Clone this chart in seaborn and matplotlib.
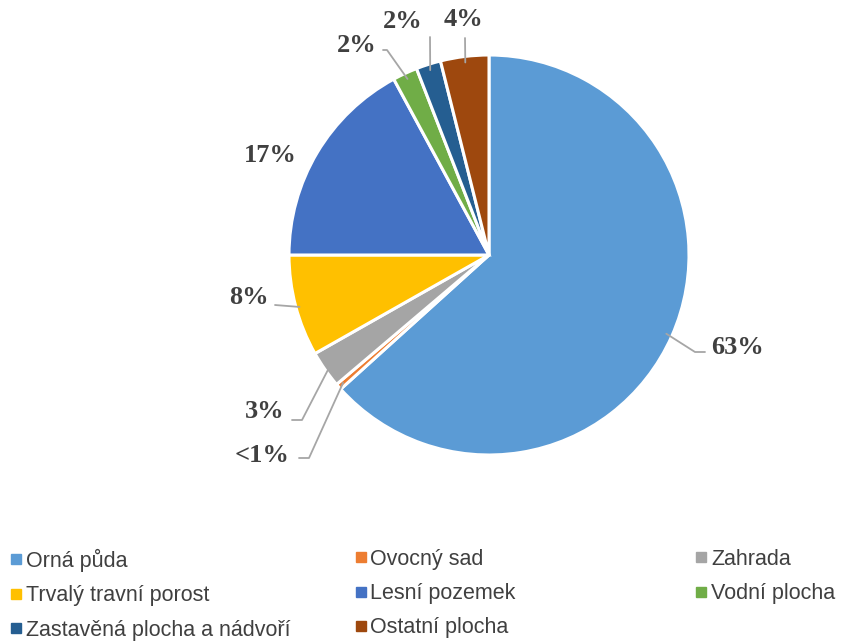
import numpy as np
import matplotlib
matplotlib.use("Agg")
from matplotlib import pyplot as plt
from matplotlib.lines import Line2D
import seaborn as sns

categories = ["Orná půda", "Ovocný sad", "Zahrada", "Trvalý travní porost",
              "Lesní pozemek", "Vodní plocha", "Zastavěná plocha a nádvoří", "Ostatní plocha"]
shares = [63.3, 0.5, 3.0, 8.2, 17.1, 2.0, 2.0, 3.9]
labels = ["63%", "<1%", "3%", "8%", "17%", "2%", "2%", "4%"]
colors = ["#5B9BD5", "#ED7D31", "#A5A5A5", "#FFC000", "#4472C4", "#70AD47", "#255E91", "#9E480E"]

sns.set_theme(style="white")
plt.rcParams["font.family"] = ["Liberation Sans", "DejaVu Sans"]

fig = plt.figure(figsize=(8.43, 6.44), dpi=100)
# square axes centred on the pie (pixel centre 489,255, radius 200)
ax = fig.add_axes([189 / 843, 89 / 644, 600 / 843, 600 / 644])

wedges, _ = ax.pie(shares, colors=sns.color_palette(colors), startangle=90, counterclock=False,
                   radius=1.0, wedgeprops=dict(edgecolor="white", linewidth=2.2))
ax.set_xlim(-1.5, 1.5)
ax.set_ylim(-1.5, 1.5)
ax.set_aspect("equal")
ax.axis("off")

# label layout: (text centre, elbow point or None, line end) in pie units
layout = [
    ((1.24, -0.46), (1.03, -0.485), (1.08, -0.485)),
    ((-1.135, -1.0), (-0.9, -1.015), (-0.95, -1.015)),
    ((-1.12, -0.78), (-0.935, -0.825), (-0.985, -0.825)),
    ((-1.2, -0.215), None, (-1.07, -0.25)),
    ((-1.095, 0.5), None, None),
    ((-0.66, 1.05), (-0.51, 1.025), (-0.53, 1.025)),
    ((-0.43, 1.165), None, (-0.295, 1.09)),
    ((-0.125, 1.175), None, (-0.12, 1.085)),
]

for w, lab, (txt, elbow, end) in zip(wedges, labels, layout):
    ang = np.deg2rad((w.theta1 + w.theta2) / 2)
    sx, sy = np.cos(ang), np.sin(ang)
    if end is not None:
        if lab == "8%":
            xs, ys = [sx * 0.98, end[0]], [sy * 0.98 - 0.01, end[1]]
        elif elbow is None:
            xs, ys = [sx * 0.97, end[0]], [sy * 0.97, end[1]]
        else:
            xs, ys = [sx * 0.97, elbow[0], end[0]], [sy * 0.97, elbow[1], end[1]]
        ax.plot(xs, ys, color="#A6A6A6", lw=1.3, clip_on=False)
    ax.text(txt[0], txt[1], lab, ha="center", va="center", fontsize=19, fontweight="bold",
            family=["Liberation Serif"], color="#404040", clip_on=False)

# legend rows read left to right, one legend per column
columns = [[0, 3, 6], [1, 4, 7], [2, 5]]
col_x = [0.010, 0.419, 0.823]
for cx, col in zip(col_x, columns):
    handles = [Line2D([], [], marker="s", linestyle="none", markersize=7,
                      markerfacecolor=colors[i], markeredgecolor=colors[i]) for i in col]
    fig.legend(handles, [categories[i] for i in col], loc="upper left",
               bbox_to_anchor=(cx, 0.148), frameon=False, fontsize=15.5,
               handletextpad=0.1, handlelength=0.7, labelspacing=0.62,
               borderaxespad=0, borderpad=0, labelcolor="#404040")

fig.savefig("out.png", dpi=100)
